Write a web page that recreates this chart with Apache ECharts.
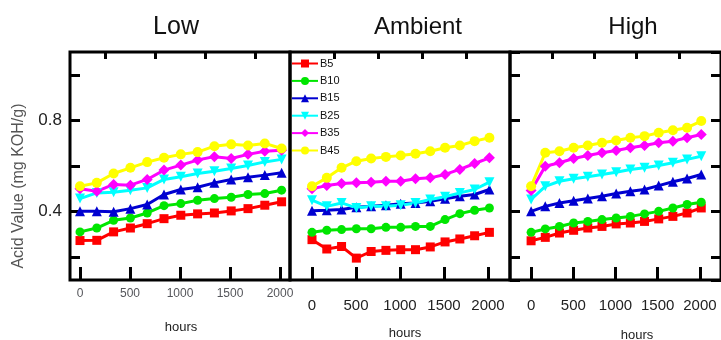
<!DOCTYPE html>
<html>
<head>
<meta charset="utf-8">
<script src="https://cdn.jsdelivr.net/npm/echarts@6/dist/echarts.min.js"></script>
<style>html,body{margin:0;padding:0;background:#fff}#c{width:721px;height:340px}</style>
</head>
<body>
<div id="c"></div>
<script>
// ---- data ----
const hours = [0,168,336,504,672,840,1008,1176,1344,1512,1680,1848,2016];
const seriesNames = ['B5','B10','B15','B25','B35','B45'];
const panelTitles = ['Low','Ambient','High'];
const xTickLabels = [0,500,1000,1500,2000];
const xMinorTicks = [250,750,1250,1750];
const yTickLabels = [0.4,0.8];

const lowB5  = [0.273,0.274,0.311,0.328,0.347,0.369,0.384,0.390,0.394,0.403,0.413,0.428,0.443];
const lowB10 = [0.311,0.328,0.362,0.372,0.394,0.426,0.435,0.450,0.457,0.463,0.475,0.479,0.494];
const lowB15 = [0.401,0.401,0.399,0.413,0.431,0.475,0.497,0.507,0.526,0.541,0.551,0.560,0.570];
const lowB25 = [0.457,0.482,0.485,0.494,0.504,0.541,0.553,0.567,0.577,0.589,0.602,0.618,0.629];
const lowB35 = [0.500,0.489,0.519,0.516,0.541,0.582,0.604,0.626,0.641,0.633,0.651,0.665,0.669];
const lowB45 = [0.511,0.526,0.567,0.592,0.617,0.636,0.651,0.661,0.687,0.695,0.690,0.699,0.677];

const ambB5  = [0.277,0.236,0.247,0.196,0.225,0.230,0.233,0.233,0.245,0.267,0.280,0.294,0.309];
const ambB10 = [0.309,0.318,0.321,0.325,0.325,0.331,0.331,0.335,0.335,0.365,0.391,0.406,0.416];
const ambB15 = [0.404,0.406,0.409,0.419,0.423,0.428,0.434,0.438,0.445,0.456,0.467,0.475,0.497];
const ambB25 = [0.450,0.423,0.438,0.416,0.423,0.423,0.428,0.438,0.453,0.465,0.482,0.497,0.529];
const ambB35 = [0.500,0.514,0.523,0.526,0.529,0.533,0.533,0.544,0.548,0.563,0.585,0.611,0.636];
const ambB45 = [0.511,0.548,0.592,0.621,0.633,0.640,0.646,0.654,0.665,0.680,0.690,0.709,0.724];

const highB5  = [0.272,0.287,0.306,0.318,0.328,0.335,0.346,0.350,0.357,0.368,0.379,0.394,0.416];
const highB10 = [0.309,0.324,0.335,0.350,0.357,0.365,0.372,0.379,0.390,0.401,0.416,0.431,0.441];
const highB15 = [0.401,0.423,0.438,0.448,0.457,0.467,0.479,0.489,0.497,0.514,0.531,0.545,0.563];
const highB25 = [0.453,0.511,0.533,0.544,0.553,0.563,0.573,0.585,0.592,0.602,0.614,0.629,0.643];
const highB35 = [0.492,0.599,0.614,0.633,0.646,0.658,0.668,0.680,0.690,0.702,0.709,0.724,0.738];
const highB45 = [0.511,0.658,0.665,0.680,0.690,0.702,0.712,0.724,0.731,0.746,0.757,0.768,0.797];

const panels = [
  [lowB5, lowB10, lowB15, lowB25, lowB35, lowB45],
  [ambB5, ambB10, ambB15, ambB25, ambB35, ambB45],
  [highB5, highB10, highB15, highB25, highB35, highB45]
];

// ---- styling ----
const FONT = "'Liberation Sans', Arial, sans-serif";
const colors = ['#ff0000','#00e600','#0000d0','#00ffff','#ff00ff','#ffff00'];
const symbols = ['rect','circle','triangle','triangle','diamond','circle'];
const symRot = [0,0,0,180,0,0];
const symSize = [9,9,10,10,11,10];

const gridLefts = [70,290,510];
const xRanges = [[-100,2100],[-250,2250],[-250,2250]];
const labelMargins = [21,18,18];

const grids = [], xAxes = [], yAxes = [], series = [];
for (let p = 0; p < 3; p++) {
  grids.push({left: gridLefts[p], top: 52, width: 220, height: 228, show: true,
    borderColor: '#000', borderWidth: 3});
  const lbl = p === 0
    ? {customValues: xTickLabels, formatter: v => String(v)}
    : {customValues: xTickLabels, fontSize: 15, color: '#222', margin: labelMargins[p], fontFamily: FONT, formatter: v => String(v)};
  xAxes.push({type: 'value', gridIndex: p, min: xRanges[p][0], max: xRanges[p][1],
    axisLine: {show: false, onZero: false}, splitLine: {show: false},
    axisTick: {show: true, inside: true, length: 13, lineStyle: {color: '#000', width: 3}, customValues: xTickLabels},
    axisLabel: lbl
  });
  xAxes.push({type: 'value', gridIndex: p, min: xRanges[p][0], max: xRanges[p][1],
    axisLine: {show: false, onZero: false}, splitLine: {show: false},
    axisTick: {show: true, inside: true, length: 7, lineStyle: {color: '#000', width: 3}, customValues: xMinorTicks},
    axisLabel: {show: false}
  });
  yAxes.push({type: 'value', gridIndex: p, min: 0.1, max: 1.1, splitNumber: 5, position: p === 0 ? 'left' : 'right',
    axisLine: {show: false, onZero: false}, splitLine: {show: false},
    axisTick: {show: true, inside: p !== 1, length: 10, lineStyle: {color: '#000', width: 3}},
    axisLabel: {show: p === 0, fontSize: 17, color: '#222', margin: 8, fontFamily: FONT,
      showMinLabel: false, showMaxLabel: false,
      formatter: v => yTickLabels.some(t => Math.abs(t - v) < 1e-6) ? v.toFixed(1) : ''}
  });
  for (let s = 0; s < 6; s++) {
    series.push({
      type: 'line', name: seriesNames[s], xAxisIndex: p * 2, yAxisIndex: p,
      data: hours.map((h, i) => [h, panels[p][s][i]]),
      symbol: symbols[s], symbolSize: symSize[s], symbolRotate: symRot[s],
      color: colors[s], lineStyle: {width: 3, color: colors[s]},
      itemStyle: {color: colors[s]}
    });
  }
}

const chart = echarts.init(document.getElementById('c'));
chart.setOption({
  animation: false,
  grid: grids, xAxis: xAxes, yAxis: yAxes, series: series,
  legend: {
    data: seriesNames, orient: 'vertical', left: 291, top: 58,
    itemWidth: 26, itemHeight: 10, itemGap: 6.4, padding: 0,
    textStyle: {fontSize: 11, color: '#111', fontFamily: FONT, padding: [0,0,0,-3]},
    selectedMode: false
  },
  graphic: [
    {type: 'text', x: 176, y: 27, style: {text: panelTitles[0], fontSize: 25, fontFamily: FONT, fill: '#111', align: 'center', verticalAlign: 'middle'}},
    {type: 'text', x: 418, y: 27, style: {text: panelTitles[1], fontSize: 24, fontFamily: FONT, fill: '#111', align: 'center', verticalAlign: 'middle'}},
    {type: 'text', x: 633, y: 27, style: {text: panelTitles[2], fontSize: 24, fontFamily: FONT, fill: '#111', align: 'center', verticalAlign: 'middle'}},
    {type: 'text', x: 181, y: 327, style: {text: 'hours', fontSize: 13, fontFamily: FONT, fill: '#222', align: 'center', verticalAlign: 'middle'}},
    {type: 'text', x: 405, y: 333, style: {text: 'hours', fontSize: 13, fontFamily: FONT, fill: '#222', align: 'center', verticalAlign: 'middle'}},
    {type: 'text', x: 637, y: 335, style: {text: 'hours', fontSize: 13, fontFamily: FONT, fill: '#222', align: 'center', verticalAlign: 'middle'}},
    {type: 'text', x: 19, y: 186, rotation: Math.PI / 2, style: {text: 'Acid Value (mg KOH/g)', fontSize: 16, fontFamily: FONT, fill: '#555', align: 'center', verticalAlign: 'middle'}}
  ]
});
</script>
</body>
</html>
